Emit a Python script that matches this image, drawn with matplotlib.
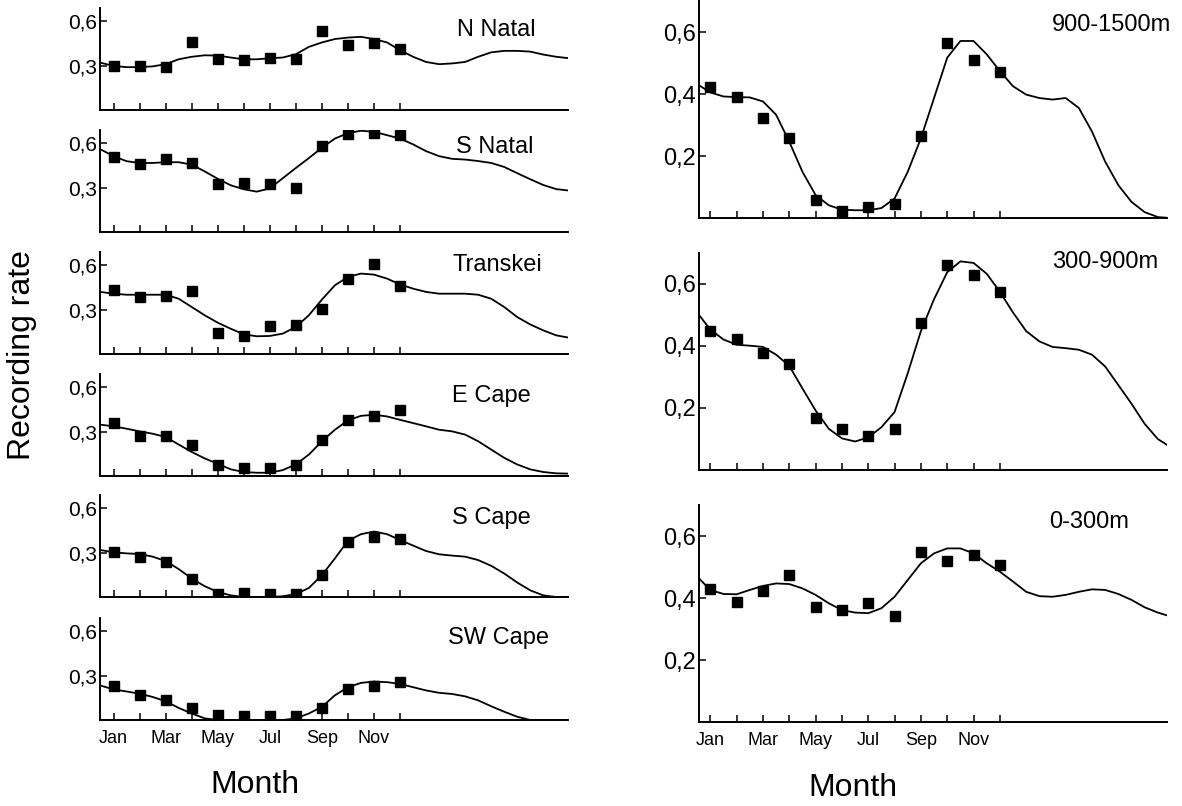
import numpy as np
import matplotlib
matplotlib.use('Agg')
import matplotlib.pyplot as plt

plt.rcParams['font.family'] = ['Liberation Sans', 'DejaVu Sans']

# monthly recording rates (Jan..Dec) and fitted curves (half-month steps from 0.5 to 18.5)
months = np.arange(1, 13)
curve_x = np.arange(0.5, 18.75, 0.5)
month_labels = ['Jan', '', 'Mar', '', 'May', '', 'Jul', '', 'Sep', '', 'Nov', '']

nnatal_pts = [0.30, 0.30, 0.29, 0.457, 0.348, 0.341, 0.355, 0.348, 0.537, 0.44, 0.455, 0.416]
nnatal_curve = [0.32, 0.298, 0.29, 0.29, 0.295, 0.31, 0.343, 0.36, 0.37, 0.368,
                0.355, 0.343, 0.343, 0.35, 0.355, 0.377, 0.427, 0.457, 0.48, 0.49,
                0.495, 0.48, 0.457, 0.405, 0.36, 0.325, 0.31, 0.315, 0.325, 0.36,
                0.39, 0.4, 0.4, 0.395, 0.375, 0.36, 0.35]

snatal_pts = [0.508, 0.463, 0.495, 0.467, 0.323, 0.33, 0.325, 0.30, 0.582, 0.666, 0.669, 0.655]
snatal_curve = [0.559, 0.513, 0.479, 0.467, 0.467, 0.472, 0.472, 0.456, 0.41, 0.36,
                0.316, 0.289, 0.273, 0.295, 0.364, 0.433, 0.5, 0.57, 0.632, 0.669,
                0.685, 0.678, 0.655, 0.632, 0.593, 0.547, 0.513, 0.495, 0.49, 0.48,
                0.467, 0.44, 0.398, 0.357, 0.318, 0.29, 0.28]

transkei_pts = [0.435, 0.386, 0.392, 0.426, 0.142, 0.124, 0.189, 0.198, 0.302, 0.51, 0.611, 0.458]
transkei_curve = [0.42, 0.408, 0.401, 0.401, 0.401, 0.401, 0.374, 0.318, 0.262, 0.212,
                  0.171, 0.133, 0.12, 0.122, 0.138, 0.183, 0.262, 0.368, 0.465, 0.521,
                  0.544, 0.537, 0.51, 0.471, 0.442, 0.42, 0.408, 0.408, 0.408, 0.401,
                  0.374, 0.318, 0.25, 0.2, 0.16, 0.126, 0.11]

ecape_pts = [0.358, 0.273, 0.268, 0.213, 0.074, 0.056, 0.051, 0.074, 0.246, 0.38, 0.409, 0.447]
ecape_curve = [0.347, 0.336, 0.32, 0.302, 0.286, 0.264, 0.213, 0.163, 0.119, 0.083,
               0.045, 0.027, 0.022, 0.022, 0.04, 0.078, 0.145, 0.235, 0.313, 0.376,
               0.407, 0.414, 0.403, 0.38, 0.358, 0.336, 0.313, 0.302, 0.28, 0.235,
               0.179, 0.123, 0.078, 0.045, 0.027, 0.018, 0.016]

scape_pts = [0.307, 0.268, 0.234, 0.125, 0.023, 0.027, 0.023, 0.02, 0.152, 0.375, 0.409, 0.393]
scape_curve = [0.318, 0.302, 0.295, 0.291, 0.273, 0.243, 0.189, 0.125, 0.073, 0.034,
               0.011, 0.0, 0.0, 0.0, 0.005, 0.02, 0.061, 0.148, 0.261, 0.38,
               0.425, 0.443, 0.425, 0.386, 0.348, 0.311, 0.289, 0.28, 0.273, 0.25,
               0.211, 0.159, 0.098, 0.045, 0.011, 0.0, 0.0]

swcape_pts = [0.227, 0.171, 0.133, 0.078, 0.033, 0.029, 0.027, 0.027, 0.078, 0.207, 0.233, 0.256]
swcape_curve = [0.233, 0.207, 0.193, 0.178, 0.156, 0.127, 0.082, 0.044, 0.011, 0.0,
                0.0, 0.0, 0.0, 0.0, 0.0, 0.011, 0.044, 0.089, 0.167, 0.222,
                0.251, 0.26, 0.256, 0.244, 0.222, 0.2, 0.184, 0.176, 0.16, 0.133,
                0.093, 0.056, 0.022, 0.0, 0.0, 0.0, 0.0]

alt_high_pts = [0.422, 0.39, 0.322, 0.257, 0.057, 0.022, 0.034, 0.044, 0.266, 0.563, 0.509, 0.471]
alt_high_curve = [0.432, 0.405, 0.392, 0.39, 0.389, 0.376, 0.333, 0.246, 0.149, 0.074,
                  0.041, 0.027, 0.025, 0.025, 0.032, 0.063, 0.149, 0.257, 0.387, 0.517,
                  0.571, 0.571, 0.528, 0.474, 0.425, 0.398, 0.387, 0.382, 0.387, 0.355,
                  0.279, 0.182, 0.106, 0.052, 0.019, 0.003, 0.0]

alt_mid_pts = [0.448, 0.421, 0.377, 0.341, 0.167, 0.133, 0.111, 0.133, 0.475, 0.662, 0.63, 0.573]
alt_mid_curve = [0.508, 0.453, 0.421, 0.404, 0.401, 0.397, 0.372, 0.336, 0.263, 0.192,
                 0.133, 0.102, 0.092, 0.105, 0.138, 0.187, 0.312, 0.448, 0.551, 0.638,
                 0.673, 0.668, 0.633, 0.575, 0.508, 0.448, 0.415, 0.397, 0.393, 0.388,
                 0.372, 0.334, 0.274, 0.214, 0.149, 0.1, 0.073]

alt_low_pts = [0.428, 0.388, 0.423, 0.474, 0.372, 0.361, 0.383, 0.342, 0.549, 0.52, 0.539, 0.506]
alt_low_curve = [0.469, 0.426, 0.413, 0.412, 0.426, 0.439, 0.447, 0.445, 0.431, 0.41,
                 0.383, 0.361, 0.353, 0.351, 0.367, 0.404, 0.458, 0.512, 0.544, 0.56,
                 0.56, 0.544, 0.512, 0.485, 0.453, 0.42, 0.406, 0.404, 0.41, 0.42,
                 0.428, 0.426, 0.413, 0.394, 0.37, 0.353, 0.34]

left_panels = [('N Natal', nnatal_pts, nnatal_curve),
               ('S Natal', snatal_pts, snatal_curve),
               ('Transkei', transkei_pts, transkei_curve),
               ('E Cape', ecape_pts, ecape_curve),
               ('S Cape', scape_pts, scape_curve),
               ('SW Cape', swcape_pts, swcape_curve)]
right_panels = [('900-1500m', alt_high_pts, alt_high_curve),
                ('300-900m', alt_mid_pts, alt_mid_curve),
                ('0-300m', alt_low_pts, alt_low_curve)]

W, H = 1182, 806
fig = plt.figure(figsize=(W / 100, H / 100), dpi=100)


def px_axes(x0, y_bottom, w, h):
    return fig.add_axes([x0 / W, 1 - y_bottom / H, w / W, h / H])


def style(ax, xlim, ylim, yticks, ylabels, fs, bottom):
    ax.set_xlim(*xlim)
    ax.set_ylim(*ylim)
    for s in ['top', 'right']:
        ax.spines[s].set_visible(False)
    for s in ['left', 'bottom']:
        ax.spines[s].set_linewidth(1.4)
    ax.set_xticks(months)
    ax.set_xticklabels(month_labels if bottom else [''] * 12, fontsize=13)
    ax.set_yticks(yticks)
    ax.set_yticklabels(ylabels, fontsize=fs)
    ax.tick_params(axis='x', direction='in', length=5, width=1.1, pad=7)
    ax.tick_params(axis='y', direction='in', length=5, width=1.1, pad=2)


left_bottoms = [110, 232, 354, 476, 597, 720]
left_title_pos = [(0.93, 0.78), (0.927, 0.83), (0.946, 0.87),
                  (0.92, 0.78), (0.92, 0.77), (0.96, 0.8)]
for i, (name, pts, curve) in enumerate(left_panels):
    ax = px_axes(100, left_bottoms[i], 468, 102)
    ax.plot(curve_x, curve, color='black', lw=1.3)
    ax.plot(months, pts, 's', color='black', ms=6.5)
    style(ax, (0.48, 18.45), (0, 0.69), [0.3, 0.6], ['0,3', '0,6'], 15, i == 5)
    tx, ty = left_title_pos[i]
    ax.text(tx, ty, name, transform=ax.transAxes, ha='right', va='center', fontsize=17)

right_bottoms = [218, 470, 722]
right_title_pos = [(1.009, 0.89), (0.981, 0.96), (0.919, 0.92)]
for i, (name, pts, curve) in enumerate(right_panels):
    ax = px_axes(699, right_bottoms[i], 468, 217)
    ax.plot(curve_x, curve, color='black', lw=1.3)
    ax.plot(months, pts, 's', color='black', ms=6.5)
    style(ax, (0.57, 18.35), (0, 0.7), [0.2, 0.4, 0.6], ['0,2', '0,4', '0,6'], 17, i == 2)
    tx, ty = right_title_pos[i]
    ax.text(tx, ty, name, transform=ax.transAxes, ha='right', va='center', fontsize=17)

fig.text(22 / W, 1 - 355 / H, 'Recording rate', rotation=90, ha='center', va='center', fontsize=23)
fig.text(255 / W, 1 - 785 / H, 'Month', ha='center', va='center', fontsize=23)
fig.text(853 / W, 1 - 788 / H, 'Month', ha='center', va='center', fontsize=23)

fig.savefig('out.png', dpi=100)
